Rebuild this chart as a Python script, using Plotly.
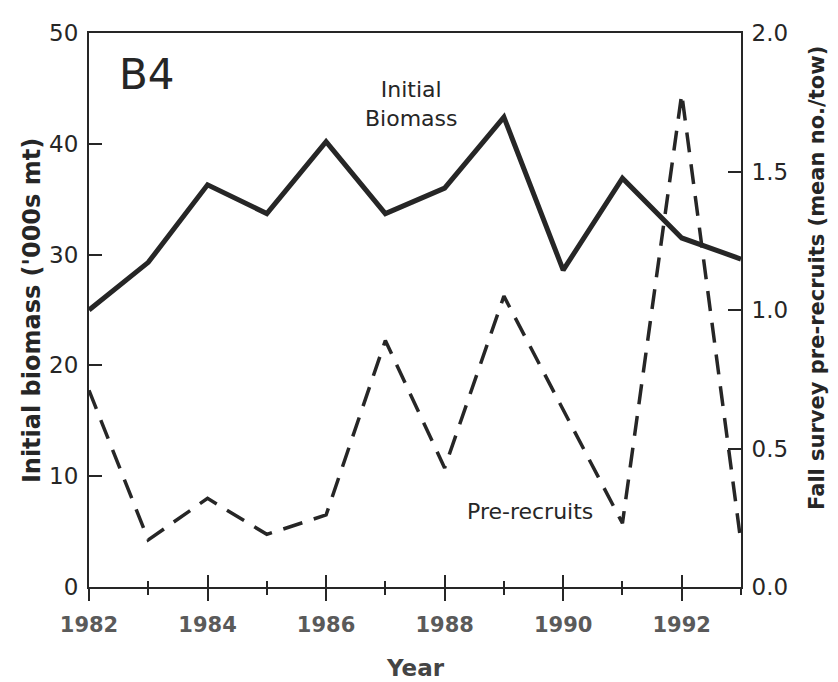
import plotly.graph_objects as go

years = [1982, 1983, 1984, 1985, 1986, 1987, 1988, 1989, 1990, 1991, 1992, 1993]
biomass = [25.0, 29.3, 36.3, 33.7, 40.2, 33.7, 36.0, 42.4, 28.6, 36.9, 31.5, 29.6]
prerecruits = [0.71, 0.17, 0.32, 0.19, 0.26, 0.89, 0.43, 1.05, 0.64, 0.23, 1.78, 0.16]
xtick_vals = [1982, 1984, 1986, 1988, 1990, 1992]
ytick_left = [0, 10, 20, 30, 40, 50]
ytick_right = [0.0, 0.5, 1.0, 1.5, 2.0]

INK = "#262626"
FONT = "DejaVu Sans"

fig = go.Figure()
fig.add_trace(go.Scatter(x=years, y=biomass, mode="lines", name="Initial Biomass",
                         line=dict(color=INK, width=5), xaxis="x", yaxis="y",
                         showlegend=False, cliponaxis=False))
fig.add_trace(go.Scatter(x=years, y=prerecruits, mode="lines", name="Pre-recruits",
                         line=dict(color=INK, width=3.5, dash="20px,12px"),
                         xaxis="x2", yaxis="y2", showlegend=False, cliponaxis=False))

fig.update_layout(
    width=830, height=674,
    margin=dict(l=81, r=97, t=13, b=95),
    paper_bgcolor="white", plot_bgcolor="white",
    font=dict(family=FONT, color=INK),
    xaxis=dict(range=[1982, 1993], tickvals=xtick_vals, ticktext=[str(v) for v in xtick_vals],
               ticks="outside", ticklen=12, tickwidth=2, tickcolor=INK,
               minor=dict(tickvals=years, ticks="outside", ticklen=6, tickwidth=2, tickcolor=INK),
               showline=True, linewidth=2, linecolor=INK, mirror=True,
               showgrid=False, zeroline=False, ticklabelstandoff=6,
               tickfont=dict(family=FONT, size=21, color="#5a5a5a", weight="bold")),
    xaxis2=dict(range=[1982, 1993], overlaying="x", anchor="y2", side="bottom",
                tickvals=xtick_vals, ticks="inside", ticklen=12, tickwidth=2, tickcolor=INK,
                minor=dict(tickvals=years, ticks="inside", ticklen=6, tickwidth=2, tickcolor=INK),
                showticklabels=False, showline=False, showgrid=False, zeroline=False),
    yaxis=dict(range=[0, 50], tickvals=ytick_left, ticks="inside", ticklen=13, tickwidth=2,
               tickcolor=INK, showline=True, linewidth=2, linecolor=INK,
               showgrid=False, zeroline=False, ticklabelstandoff=4,
               tickfont=dict(family=FONT, size=23, color=INK)),
    yaxis2=dict(range=[0, 2], tickvals=ytick_right, tickformat=".1f", overlaying="y",
                side="right", anchor="x2", ticks="inside", ticklen=13, tickwidth=2,
                tickcolor=INK, showline=True, linewidth=2, linecolor=INK,
                showgrid=False, zeroline=False, ticklabelstandoff=4,
                tickfont=dict(family=FONT, size=23, color=INK)),
    annotations=[
        dict(text="B4", x=0.089, y=0.925, xref="paper", yref="paper", showarrow=False,
             xanchor="center", yanchor="middle", font=dict(family=FONT, size=42, color=INK)),
        dict(text="Initial<br>Biomass", x=0.495, y=0.872, xref="paper", yref="paper",
             showarrow=False, xanchor="center", yanchor="middle", align="center",
             font=dict(family=FONT, size=22, color=INK)),
        dict(text="Pre-recruits", x=0.676, y=0.136, xref="paper", yref="paper",
             showarrow=False, xanchor="center", yanchor="middle",
             font=dict(family=FONT, size=22, color=INK)),
        dict(text="Initial biomass ('000s mt)", x=-0.0874, y=0.498, xref="paper", yref="paper",
             showarrow=False, xanchor="center", yanchor="middle", textangle=-90,
             font=dict(family=FONT, size=24, color=INK, weight="bold")),
        dict(text="Fall survey pre-recruits (mean no./tow)", x=1.1166, y=0.558,
             xref="paper", yref="paper", showarrow=False, xanchor="center",
             yanchor="middle", textangle=-90,
             font=dict(family=FONT, size=21, color=INK, weight="bold")),
        dict(text="Year", x=0.5015, y=-0.147, xref="paper", yref="paper", showarrow=False,
             xanchor="center", yanchor="middle",
             font=dict(family=FONT, size=23, color="#444444", weight="bold")),
    ],
)

fig.write_html("out.html")
